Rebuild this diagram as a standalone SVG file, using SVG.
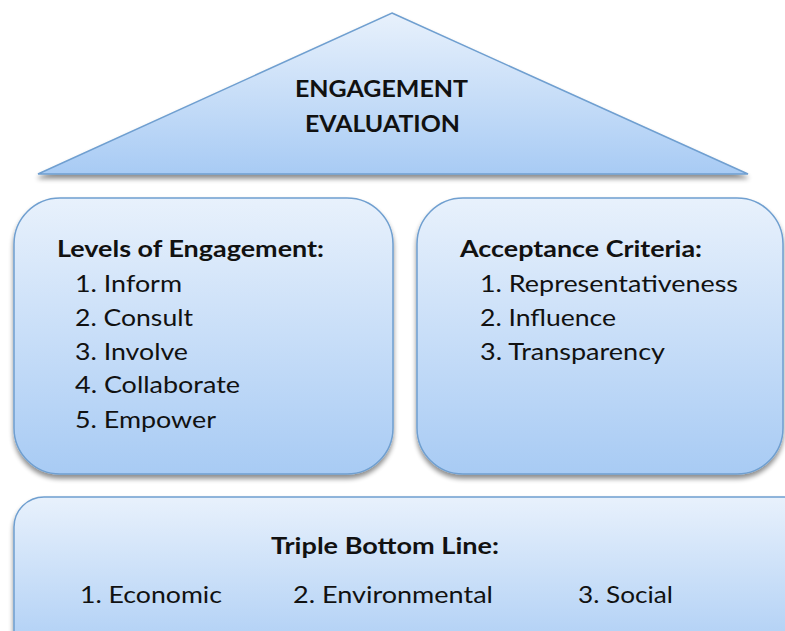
<svg xmlns="http://www.w3.org/2000/svg" width="785" height="631" viewBox="0 0 785 631">
  <style>
    .shape { fill: url(#blueFill); stroke: #6f9fd0; stroke-width: 1.5; filter: url(#dropShadow); }
    .head { font-family: Lato, "Open Sans", "Liberation Sans", sans-serif; font-weight: bold; font-size: 23px; fill: #111; }
    .item { font-family: Lato, "Open Sans", "Liberation Sans", sans-serif; font-size: 23px; fill: #111; }
  </style>
  <defs>
    <linearGradient id="blueFill" x1="0" y1="0" x2="0" y2="1">
      <stop offset="0" stop-color="#e8f1fc"/>
      <stop offset="1" stop-color="#a8cbf4"/>
    </linearGradient>
    <filter id="dropShadow" x="-10%" y="-10%" width="120%" height="130%">
      <feGaussianBlur in="SourceAlpha" stdDeviation="2.5"/>
      <feOffset dx="0" dy="4" result="blur"/>
      <feComponentTransfer><feFuncA type="linear" slope="0.45"/></feComponentTransfer>
      <feMerge><feMergeNode/><feMergeNode in="SourceGraphic"/></feMerge>
    </filter>
  </defs>
  <rect width="785" height="631" fill="#ffffff"/>

  <g id="engagement-evaluation">
    <polygon class="shape" points="392,13 748,174 38,174"/>
    <text class="head" x="295" y="97" textLength="173" lengthAdjust="spacingAndGlyphs">ENGAGEMENT</text>
    <text class="head" x="305" y="132" textLength="155" lengthAdjust="spacingAndGlyphs">EVALUATION</text>
  </g>

  <g id="levels-of-engagement">
    <rect class="shape" x="14" y="198" width="379" height="276" rx="46" ry="46"/>
    <text class="head" x="57" y="257" textLength="267" lengthAdjust="spacingAndGlyphs">Levels of Engagement:</text>
    <text class="item" x="75" y="292" textLength="107" lengthAdjust="spacingAndGlyphs">1. Inform</text>
    <text class="item" x="75" y="326" textLength="118" lengthAdjust="spacingAndGlyphs">2. Consult</text>
    <text class="item" x="75" y="360" textLength="113" lengthAdjust="spacingAndGlyphs">3. Involve</text>
    <text class="item" x="75" y="393" textLength="165" lengthAdjust="spacingAndGlyphs">4. Collaborate</text>
    <text class="item" x="75" y="428" textLength="141" lengthAdjust="spacingAndGlyphs">5. Empower</text>
  </g>

  <g id="acceptance-criteria">
    <rect class="shape" x="417" y="198" width="366" height="276" rx="46" ry="46"/>
    <text class="head" x="460" y="257" textLength="242" lengthAdjust="spacingAndGlyphs">Acceptance Criteria:</text>
    <text class="item" x="480" y="292" textLength="258" lengthAdjust="spacingAndGlyphs">1. Representativeness</text>
    <text class="item" x="480" y="326" textLength="136" lengthAdjust="spacingAndGlyphs">2. Influence</text>
    <text class="item" x="480" y="360" textLength="185" lengthAdjust="spacingAndGlyphs">3. Transparency</text>
  </g>

  <g id="triple-bottom-line">
    <rect class="shape" x="14" y="497" width="800" height="170" rx="30" ry="30"/>
    <text class="head" x="271" y="554" textLength="228" lengthAdjust="spacingAndGlyphs">Triple Bottom Line:</text>
    <text class="item" x="80" y="603" textLength="142" lengthAdjust="spacingAndGlyphs">1. Economic</text>
    <text class="item" x="293" y="603" textLength="200" lengthAdjust="spacingAndGlyphs">2. Environmental</text>
    <text class="item" x="578" y="603" textLength="95" lengthAdjust="spacingAndGlyphs">3. Social</text>
  </g>

  <g id="connectors"/>
</svg>
